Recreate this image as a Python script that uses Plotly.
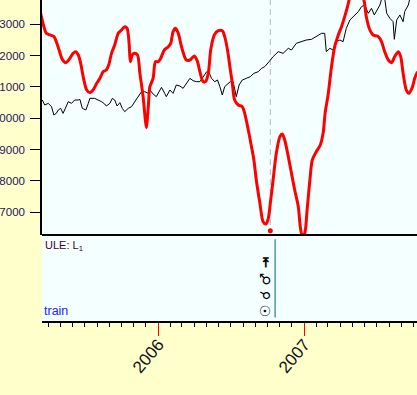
import plotly.graph_objects as go

# ---------------- data ----------------
black_dates = [
    "2005-03-17", "2005-03-23", "2005-04-01", "2005-04-09", "2005-04-15", "2005-04-21", "2005-04-26",
    "2005-05-02", "2005-05-08", "2005-05-15", "2005-05-21", "2005-05-29", "2005-06-06", "2005-06-15",
    "2005-06-19", "2005-06-25", "2005-07-04", "2005-07-10", "2005-07-14", "2005-07-26", "2005-08-06",
    "2005-08-12", "2005-08-20", "2005-08-24", "2005-09-02", "2005-09-08", "2005-09-14", "2005-09-20",
    "2005-09-27", "2005-10-03", "2005-10-09", "2005-10-18", "2005-10-26", "2005-11-03",
    "2005-11-12", "2005-11-20", "2005-11-28", "2005-12-07", "2005-12-11", "2005-12-19", "2005-12-27",
    "2006-01-05", "2006-01-09", "2006-01-17", "2006-01-21", "2006-01-30", "2006-02-07", "2006-02-15",
    "2006-02-24", "2006-03-04", "2006-03-12", "2006-03-21", "2006-03-29", "2006-04-06", "2006-04-15",
    "2006-04-23", "2006-05-02", "2006-05-07", "2006-05-14", "2006-05-22", "2006-05-29", "2006-06-04",
    "2006-06-10", "2006-06-16", "2006-06-25", "2006-06-30",
    "2006-07-07", "2006-07-15", "2006-07-22", "2006-07-30", "2006-08-09", "2006-08-19", "2006-08-28",
    "2006-09-08", "2006-09-16", "2006-09-24", "2006-10-05", "2006-10-15", "2006-10-28", "2006-11-09",
    "2006-11-22", "2006-11-30", "2006-12-12", "2006-12-25", "2007-01-06", "2007-01-19", "2007-01-31",
    "2007-02-13", "2007-02-21",
    "2007-02-25", "2007-03-06", "2007-03-14", "2007-03-22", "2007-03-31", "2007-04-08", "2007-04-16",
    "2007-04-25", "2007-05-07", "2007-05-16", "2007-05-24", "2007-06-01", "2007-06-10", "2007-06-18",
    "2007-06-25", "2007-07-01", "2007-07-09", "2007-07-15", "2007-07-21", "2007-07-26", "2007-08-03",
    "2007-08-11", "2007-08-14", "2007-08-20", "2007-08-28", "2007-09-05", "2007-09-09", "2007-09-18",
    "2007-09-22", "2007-10-04",
]
black_values = [
    10581, 10421, 10474, 10368, 10102, 10155, 10262, 10315, 10155, 10347,
    10528, 10474, 10581, 10581, 10602, 10315, 10262, 10474, 10634, 10634,
    10581, 10528, 10453, 10389, 10474, 10634, 10581, 10389, 10496, 10315,
    10208, 10315, 10368, 10528,
    10688, 10847, 10847, 10794, 10900, 10773, 10688,
    10900, 10986, 10794, 10688, 10900, 10794, 11060, 11028,
    10954, 11114, 11273, 11199, 11167, 11167, 11327,
    11486, 11486, 11273, 11167, 11220, 11007, 10741, 11007, 11114, 11167,
    11167, 10688, 11060, 11220, 11273, 11327, 11433, 11486, 11593, 11646,
    11806, 11966, 12125, 12072, 12232, 12179, 12392, 12445,
    12498, 12519, 12604, 12711, 12711,
    12125, 12232, 12179, 12445, 12498, 12445, 12871, 13137, 13297, 13403,
    13563, 13616, 13350, 13510, 13297, 13457, 13616, 13883, 13830, 13350,
    13190, 13084, 12519, 13137, 13297, 13084, 13403, 13616, 13830, 13830,
]

red_dates = [
    "2005-03-11", "2005-03-21", "2005-03-27", "2005-04-05", "2005-04-15", "2005-04-21", "2005-04-28",
    "2005-05-06", "2005-05-15", "2005-05-25", "2005-06-02", "2005-06-09", "2005-06-15", "2005-06-21",
    "2005-06-28", "2005-07-06", "2005-07-14", "2005-07-22", "2005-07-31", "2005-08-08", "2005-08-16",
    "2005-08-24", "2005-08-30", "2005-09-06", "2005-09-14", "2005-09-23", "2005-10-01", "2005-10-09",
    "2005-10-15", "2005-10-20", "2005-10-23", "2005-10-28", "2005-11-03", "2005-11-10", "2005-11-16",
    "2005-11-24", "2005-11-28", "2005-12-02", "2005-12-07", "2005-12-11", "2005-12-19", "2005-12-25",
    "2006-01-01", "2006-01-07", "2006-01-16", "2006-01-26", "2006-02-01", "2006-02-07", "2006-02-13",
    "2006-02-20", "2006-02-28", "2006-03-12", "2006-03-21", "2006-04-01", "2006-04-09", "2006-04-15",
    "2006-04-23", "2006-04-29", "2006-05-06", "2006-05-12", "2006-05-21", "2006-05-31", "2006-06-10",
    "2006-06-16", "2006-06-23", "2006-06-29", "2006-07-05", "2006-07-11", "2006-07-20", "2006-07-30",
    "2006-08-05", "2006-08-14", "2006-08-22", "2006-08-28", "2006-09-03", "2006-09-12", "2006-09-20",
    "2006-09-27", "2006-10-03", "2006-10-08", "2006-10-15", "2006-10-23", "2006-11-01", "2006-11-07",
    "2006-11-13", "2006-11-22", "2006-11-30", "2006-12-08", "2006-12-17", "2006-12-22", "2006-12-27",
    "2007-01-02", "2007-01-08", "2007-01-15", "2007-01-21", "2007-01-31", "2007-02-10", "2007-02-17",
    "2007-02-22", "2007-03-02", "2007-03-10", "2007-03-18", "2007-03-27", "2007-04-04", "2007-04-12",
    "2007-04-19", "2007-04-23", "2007-05-10", "2007-05-28", "2007-05-31", "2007-06-05", "2007-06-14",
    "2007-06-22", "2007-07-05", "2007-07-13", "2007-07-21", "2007-07-30", "2007-08-07", "2007-08-15",
    "2007-08-24", "2007-08-30", "2007-09-05", "2007-09-13", "2007-09-19", "2007-09-28", "2007-10-04",
    "2007-10-11",
]
red_values = [
    13457, 12924, 12711, 12658, 12605, 12445, 12179,
    11880, 11774, 11912, 12072, 12125, 12019, 11753,
    11273, 10900, 10815, 10900, 11114, 11273, 11486,
    11540, 11699, 12072, 12338, 12711, 12818, 12924,
    12871, 12392, 11806, 12019, 12072, 12019, 11433,
    10688, 10155, 9697, 10368, 11007, 11273, 11806,
    11806, 11912, 12179, 12285, 12392, 12764, 12871,
    12711, 12285, 11859, 11859, 11987, 11806, 11486,
    11167, 11167, 11433, 12179, 12658, 12796, 12796,
    12605, 12179, 11646, 11114, 10581, 10421, 10368,
    10155, 9623, 9090, 8664, 8025, 7280, 6694,
    6619, 6800, 7280, 8025, 8877, 9410, 9495,
    9303, 8771, 8238, 7706, 7173, 6534, 6230,
    6321, 7067, 8025, 8664, 8930, 9143, 9516,
    10155, 10794, 11646, 12285, 12658, 12924, 13243,
    13563, 13776, 14300, 13830, 13723, 13243, 12818,
    12658, 12605, 12445, 12125, 11859, 11774, 11966,
    12125, 11966, 11433, 10900, 10794, 10986, 11273,
    11486,
]

y_ticks = [7000, 8000, 9000, 10000, 11000, 12000, 13000]

event_date = "2006-10-08"     # grey dashed marker / red dot
event_value = 6405
aspect_date = "2006-10-20"    # teal line in lower panel
aspect_symbols = "☉ ☌ ♂ ⇥"
symbol_date = "2006-09-24"

x_range = ["2005-03-16 06:00", "2007-10-09 18:00"]
y_range = [6268, 13776]

# ---------------- figure ----------------
fig = go.Figure()

fig.add_trace(go.Scatter(x=black_dates, y=black_values, mode="lines",
                         line=dict(color="black", width=1), xaxis="x", yaxis="y",
                         hoverinfo="skip"))
fig.add_trace(go.Scatter(x=red_dates, y=red_values, mode="lines",
                         line=dict(color="#ff0000", width=3, shape="spline", smoothing=0.8),
                         xaxis="x", yaxis="y", hoverinfo="skip"))
fig.add_trace(go.Scatter(x=[event_date], y=[event_value], mode="markers",
                         marker=dict(color="#ff0000", size=5), xaxis="x", yaxis="y",
                         hoverinfo="skip"))
fig.add_trace(go.Scatter(x=[aspect_date, aspect_date], y=[0.04, 0.95], mode="lines",
                         line=dict(color="#2a8080", width=1.2), xaxis="x", yaxis="y2",
                         hoverinfo="skip"))

split = 86 / 321

fig.update_layout(
    width=417, height=395,
    margin=dict(l=42, r=0, t=0, b=74, pad=0, autoexpand=False),
    paper_bgcolor="#FFFFCC",
    plot_bgcolor="#F4FFFF",
    showlegend=False,
    font=dict(family="Liberation Sans, Arial, sans-serif", color="black"),
    xaxis=dict(
        type="date", range=x_range, anchor="y2", domain=[0, 1], automargin=False,
        showgrid=False, zeroline=False,
        showline=True, linecolor="black", linewidth=2,
        ticks="outside", ticklen=13, tickwidth=1, tickcolor="#ff0000",
        tick0="2006-01-01", dtick="M12", tickformat="%Y",
        tickangle=-50, ticklabelstandoff=-8,
        tickfont=dict(size=17, color="#111111"),
        minor=dict(dtick="M1", ticks="outside", ticklen=4, tickwidth=1.3,
                   tickcolor="black", showgrid=False),
    ),
    yaxis=dict(
        domain=[split, 1], range=y_range, anchor="x", automargin=False,
        showgrid=False, zeroline=False,
        showline=True, linecolor="black", linewidth=1.5,
        ticks="outside", ticklen=10, tickwidth=1, tickcolor="black",
        tickvals=y_ticks, tickformat="d", ticklabelstandoff=3,
        tickfont=dict(size=11.5, color="#1c1460"),
    ),
    yaxis2=dict(
        domain=[0, split], range=[0, 1], anchor="x", automargin=False,
        showgrid=False, zeroline=False, showline=False,
        showticklabels=False, ticks="",
    ),
    shapes=[
        dict(type="line", xref="paper", yref="y domain", x0=0, x1=1, y0=0, y1=0,
             line=dict(color="black", width=2)),
        dict(type="line", xref="x", yref="y domain", x0=event_date, x1=event_date,
             y0=0, y1=1, line=dict(color="#b8b8b8", width=1, dash="6px,4px"), layer="below"),
    ],
    annotations=[
        dict(text="ULE: L<sub>1</sub>", xref="paper", yref="y2 domain", x=0, y=1,
             xanchor="left", yanchor="top", xshift=1, yshift=-2, showarrow=False,
             font=dict(size=11, color="#400030")),
        dict(text="train", xref="paper", yref="y2 domain", x=0, y=0,
             xanchor="left", yanchor="bottom", xshift=0, yshift=1, showarrow=False,
             font=dict(size=12.5, color="#2020ff")),
        dict(text="<b>" + aspect_symbols + "</b>", xref="x", yref="y2 domain", x=symbol_date, y=0.40,
             textangle=-90, showarrow=False,
             font=dict(family="DejaVu Sans", size=14, color="black")),
    ],
)

fig.write_html("out.html", config={"displayModeBar": False},
               post_script="document.body.style.margin='0';document.documentElement.style.margin='0';")
